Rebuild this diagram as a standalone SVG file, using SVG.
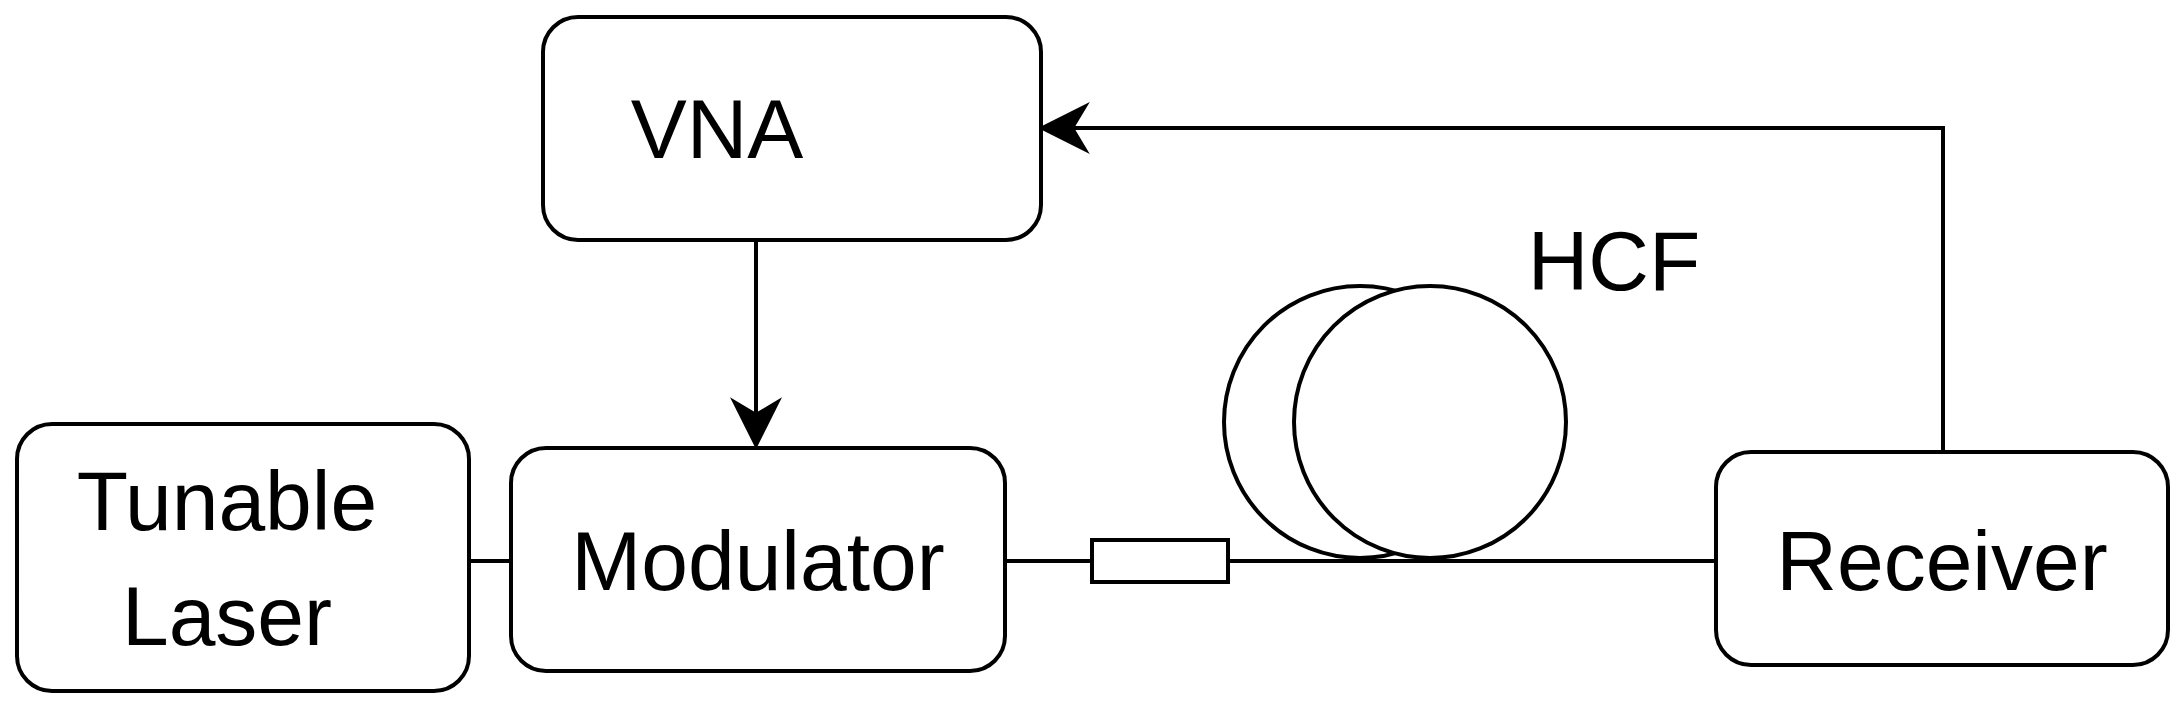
<svg xmlns="http://www.w3.org/2000/svg" width="2182" height="713" viewBox="0 0 2182 713">
<defs>
<style>
.b{fill:#fff;stroke:#000;stroke-width:4}
.t{font-family:"Liberation Sans",Arial,sans-serif;font-size:84px;text-anchor:middle;fill:#000}
.l{fill:none;stroke:#000;stroke-width:4}
</style>
<marker id="a2" viewBox="0 0 10 10" refX="9" refY="5" markerWidth="13" markerHeight="13" orient="auto"><path d="M0,0 L10,5 L0,10 L3,5 Z" fill="#000"/></marker>
</defs>
<g id="connectors">
<line class="l" x1="342" y1="561" x2="511" y2="561"/>
<line class="l" x1="1005" y1="561" x2="1092" y2="561"/>
<line class="l" x1="1228" y1="561" x2="1716" y2="561"/>
<line class="l" x1="756" y1="240" x2="756" y2="444" marker-end="url(#a2)"/>
<polyline class="l" points="1943,452 1943,128 1043,128" marker-end="url(#a2)"/>
</g>
<g id="vna"><rect class="b" x="543" y="17" width="498" height="223" rx="35"/><text class="t" x="717" y="158">VNA</text></g>
<g id="laser"><rect class="b" x="17" y="424" width="452" height="267" rx="35"/><text class="t" x="227" y="530">Tunable</text><text class="t" x="227" y="645">Laser</text></g>
<g id="modulator"><rect class="b" x="511" y="448" width="494" height="223" rx="35"/><text class="t" x="758" y="590">Modulator</text></g>
<g id="receiver"><rect class="b" x="1716" y="452" width="452" height="213" rx="35"/><text class="t" x="1942" y="590">Receiver</text></g>
<g id="component"><rect class="b" x="1092" y="540" width="136" height="42"/></g>
<g id="hcf"><circle class="b" cx="1360" cy="422" r="136"/><circle class="b" cx="1430" cy="422" r="136"/><text class="t" x="1614" y="290" font-size="80">HCF</text></g>
</svg>
